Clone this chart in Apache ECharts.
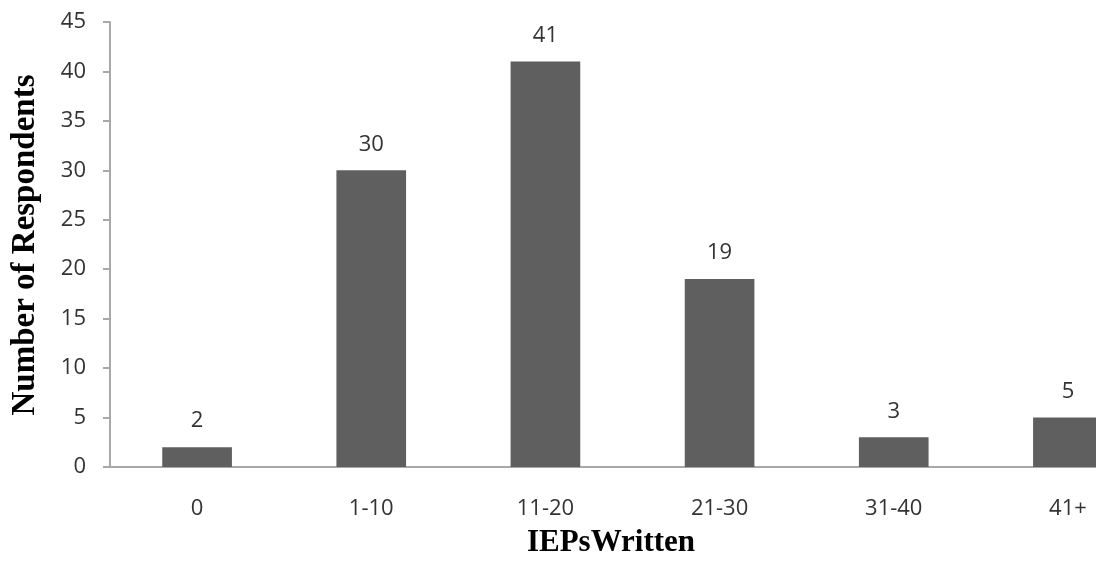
<!DOCTYPE html>
<html>
<head>
<meta charset="utf-8">
<script src="https://cdn.jsdelivr.net/npm/echarts@6/dist/echarts.min.js"></script>
<style>
html,body{margin:0;padding:0;background:#fff;}
#chart{width:1096px;height:563px;}
</style>
</head>
<body>
<div id="chart"></div>
<script>
var categories = ['0', '1-10', '11-20', '21-30', '31-40', '41+'];
var respondents = [2, 30, 41, 19, 3, 5];
var xTitle = 'IEPsWritten';
var yTitle = 'Number of Respondents';

var chart = echarts.init(document.getElementById('chart'), null, {renderer: 'canvas'});
var labelFont = '"Open Sans", "Liberation Sans", sans-serif';
var titleFont = '"Liberation Serif", "Times New Roman", serif';
chart.setOption({
  animation: false,
  backgroundColor: '#ffffff',
  grid: {left: 110, top: 22, right: -59, bottom: 96, outerBoundsMode: 'none', containLabel: false},
  xAxis: {
    type: 'category',
    data: categories,
    axisLine: {lineStyle: {color: '#a8a8a8', width: 2}},
    axisTick: {show: false},
    axisLabel: {color: '#333333', fontSize: 22, fontFamily: labelFont, margin: 31}
  },
  yAxis: {
    type: 'value',
    min: 0, max: 45, interval: 5,
    splitLine: {show: false},
    axisLine: {show: true, lineStyle: {color: '#a8a8a8', width: 2}},
    axisTick: {show: true, length: 7, lineStyle: {color: '#a8a8a8', width: 2}},
    axisLabel: {color: '#333333', fontSize: 22, fontFamily: labelFont, margin: 24}
  },
  series: [{
    type: 'bar',
    data: respondents,
    barWidth: '40%',
    itemStyle: {color: '#5f5f5f'},
    label: {show: true, position: 'top', distance: 15, color: '#333333', fontSize: 22, fontFamily: labelFont}
  }],
  graphic: [
    {type: 'text', x: 611, y: 543, style: {text: xTitle, fontSize: 31, fontWeight: 'bold', fontFamily: titleFont, fill: '#000', textAlign: 'center', textVerticalAlign: 'middle'}},
    {type: 'text', x: 25, y: 245, rotation: Math.PI / 2, style: {text: yTitle, fontSize: 33, fontWeight: 'bold', fontFamily: titleFont, fill: '#000', textAlign: 'center', textVerticalAlign: 'middle'}}
  ]
});
</script>
</body>
</html>
